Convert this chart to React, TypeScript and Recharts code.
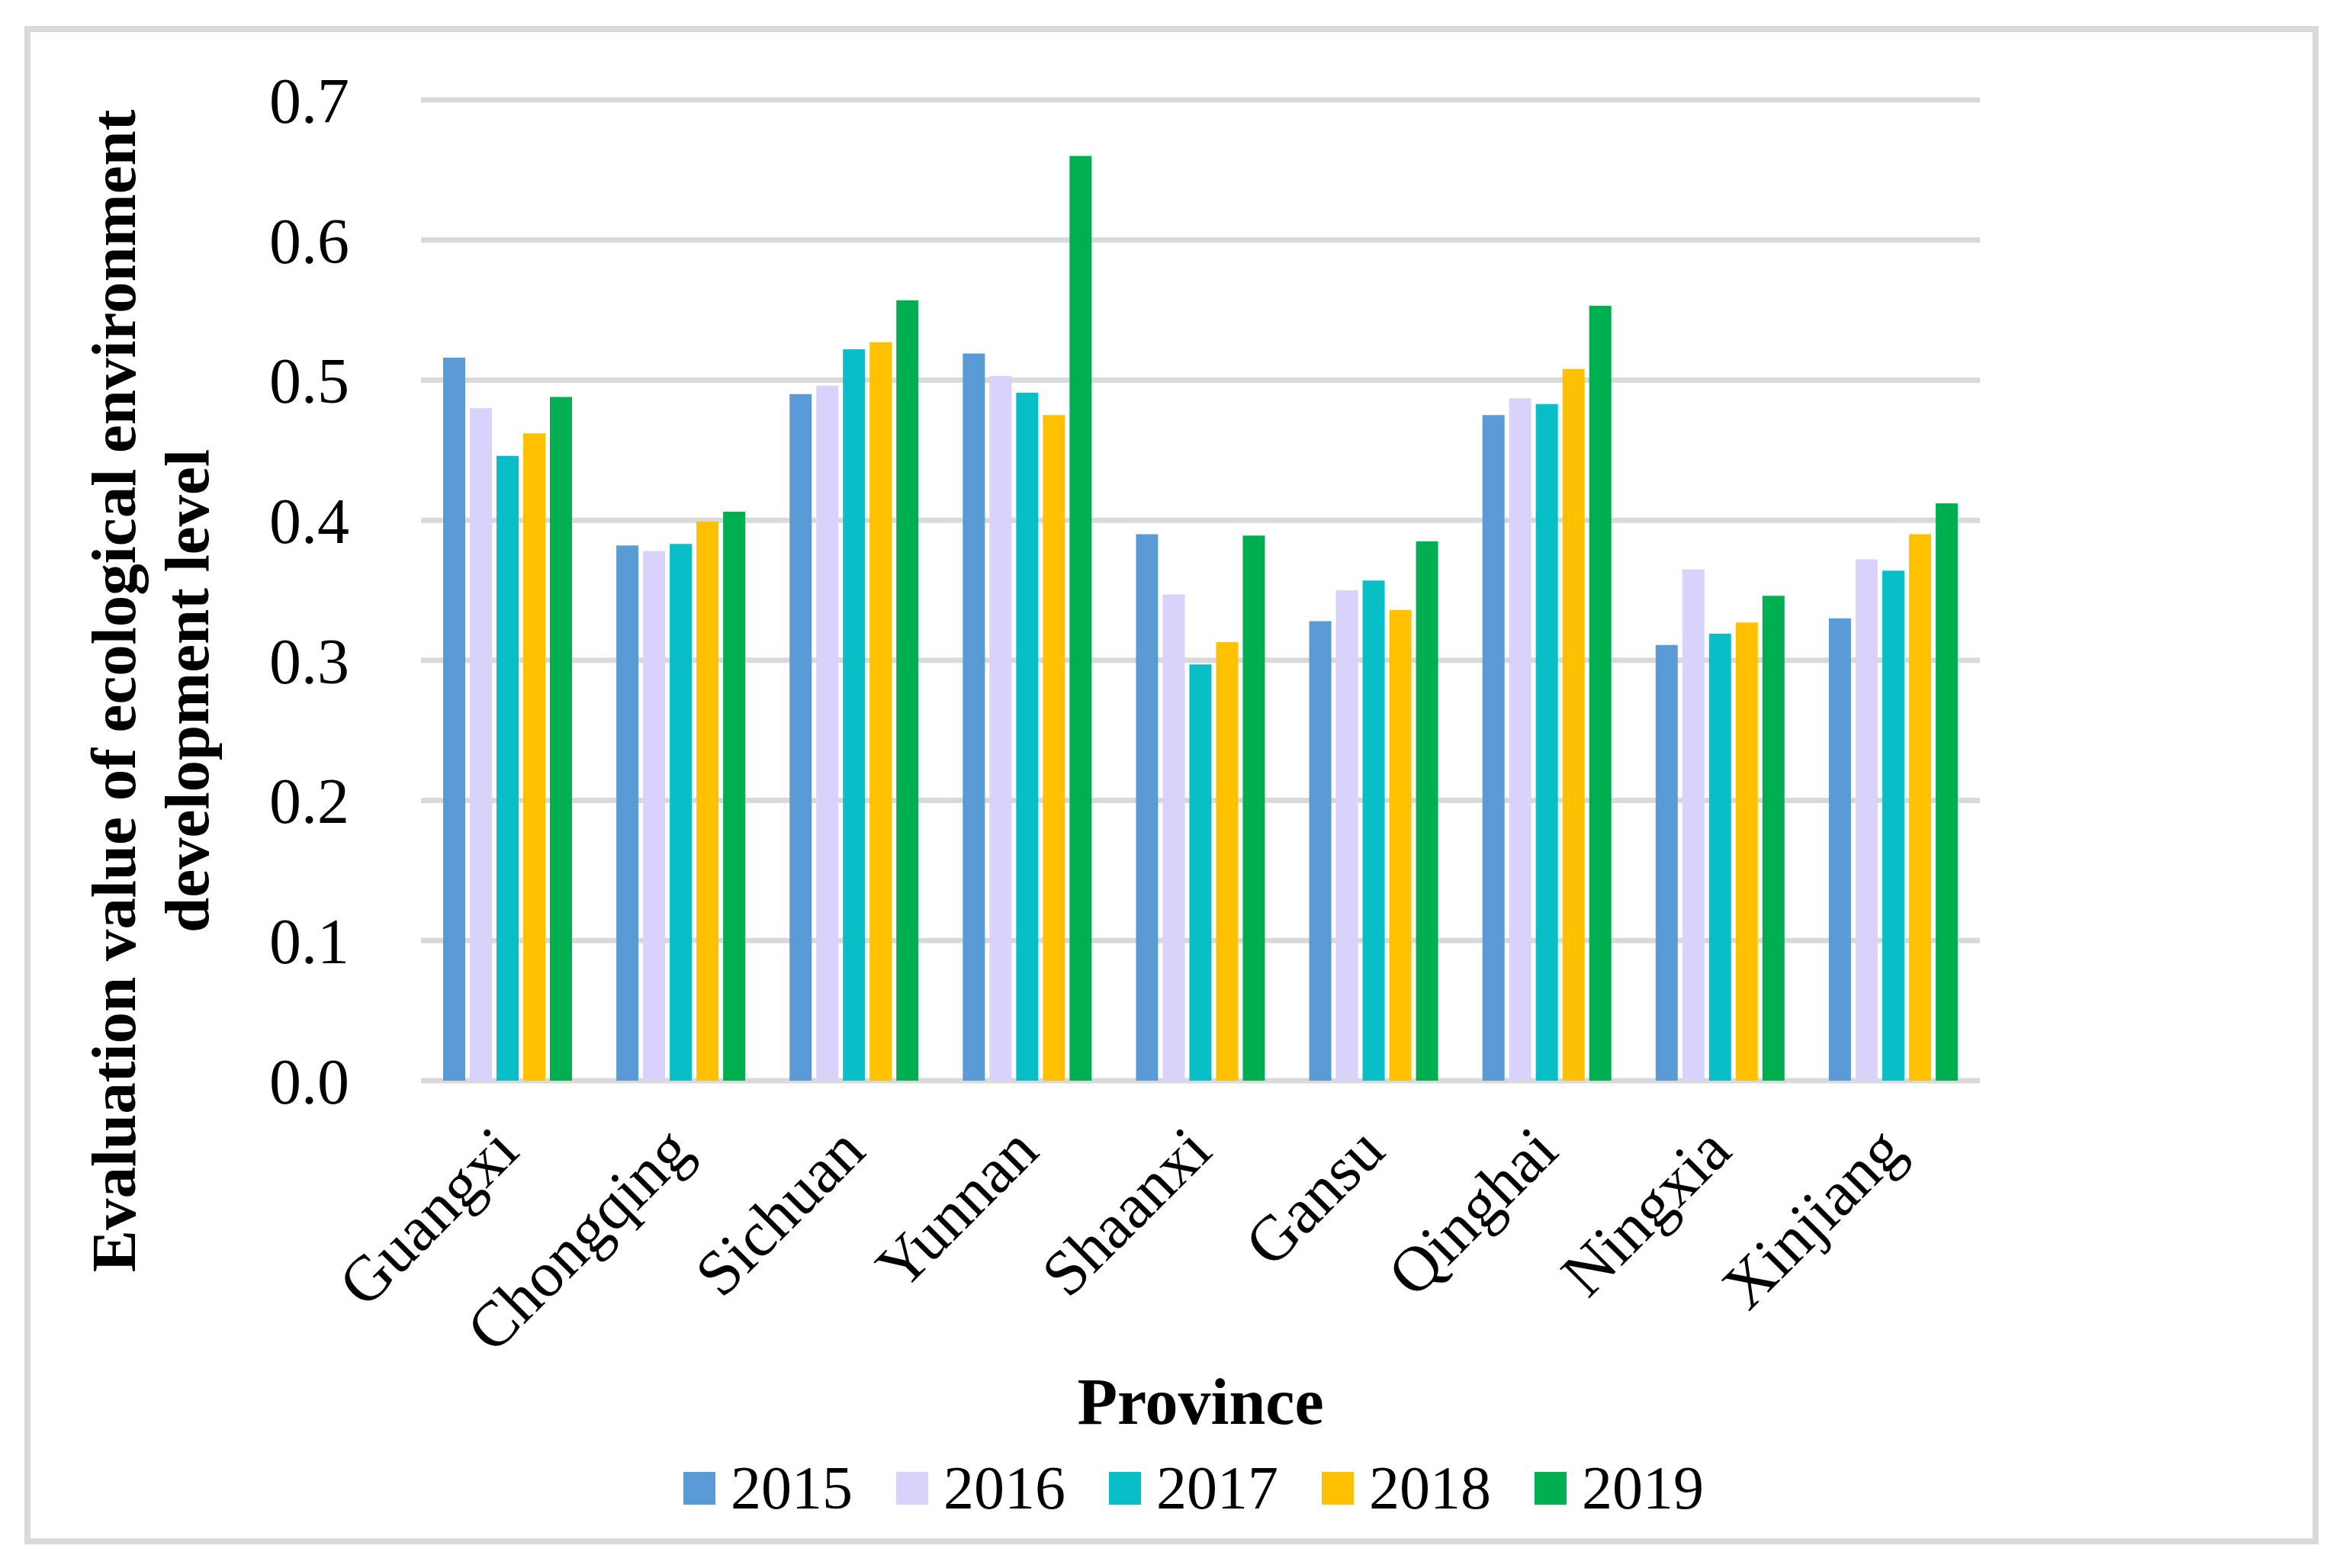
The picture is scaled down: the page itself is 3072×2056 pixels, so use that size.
import React from "react";
import { BarChart, Bar, XAxis, YAxis, CartesianGrid, Legend } from "recharts";

const provinces = ["Guangxi", "Chongqing", "Sichuan", "Yunnan", "Shaanxi", "Gansu", "Qinghai", "Ningxia", "Xinjiang"];
const years = ["2015", "2016", "2017", "2018", "2019"];
const v2015 = [0.516, 0.382, 0.49, 0.519, 0.39, 0.328, 0.475, 0.311, 0.33];
const v2016 = [0.48, 0.378, 0.496, 0.503, 0.347, 0.35, 0.487, 0.365, 0.372];
const v2017 = [0.446, 0.383, 0.522, 0.491, 0.297, 0.357, 0.483, 0.319, 0.364];
const v2018 = [0.462, 0.399, 0.527, 0.475, 0.313, 0.336, 0.508, 0.327, 0.39];
const v2019 = [0.488, 0.406, 0.557, 0.66, 0.389, 0.385, 0.553, 0.346, 0.412];
const yTicks = [0, 0.1, 0.2, 0.3, 0.4, 0.5, 0.6, 0.7];
const colors = ["#5B9BD5", "#D9D2FB", "#08BFC7", "#FFC000", "#00B050"];

const seriesValues = [v2015, v2016, v2017, v2018, v2019];
const data = provinces.map((p, i) => {
  const row: { [key: string]: string | number } = { province: p };
  years.forEach((y, j) => {
    row[y] = seriesValues[j][i];
  });
  return row;
});

const FONT = '"Liberation Serif", "Times New Roman", serif';

const ProvinceTick = (props: any) => {
  const { x, y, payload } = props;
  const ax = x + 18;
  const ay = y + 96;
  return (
    <text
      x={ax}
      y={ay}
      textAnchor="end"
      transform={`rotate(-45, ${ax}, ${ay})`}
      fontFamily={FONT}
      fontSize={84}
      fill="#000"
    >
      {payload.value}
    </text>
  );
};

const YTitle = () => (
  <text transform="rotate(-90)" fontFamily={FONT} fontSize={83} fontWeight="bold" fill="#000" textAnchor="middle">
    <tspan x={-906} y={177}>Evaluation value of ecological environment</tspan>
    <tspan x={-906} y={273}>development level</tspan>
  </text>
);

const XTitle = (props: any) => {
  const { viewBox } = props;
  return (
    <text
      x={viewBox.x + viewBox.width / 2}
      y={viewBox.y + 450}
      textAnchor="middle"
      fontFamily={FONT}
      fontSize={86}
      fontWeight="bold"
      fill="#000"
    >
      Province
    </text>
  );
};

const LegendContent = (props: any) => {
  const { payload } = props;
  return (
    <div
      style={{
        display: "flex",
        justifyContent: "center",
        alignItems: "center",
        height: 60,
        fontFamily: FONT,
        fontSize: 80,
        color: "#000",
      }}
    >
      {payload.map((entry: any, i: number) => (
        <div key={entry.value} style={{ display: "flex", alignItems: "center", marginRight: i < payload.length - 1 ? 57 : 0 }}>
          <span style={{ display: "inline-block", width: 42, height: 43, background: entry.color, marginRight: 20 }} />
          <span style={{ lineHeight: "60px" }}>{entry.value}</span>
        </div>
      ))}
    </div>
  );
};

export default function App() {
  return (
    <div style={{ position: "absolute", left: 0, top: 0, width: 3072, height: 2056, background: "#fff" }}>
      <div
        style={{
          position: "absolute",
          left: 32,
          top: 34,
          width: 3008,
          height: 1991,
          border: "8px solid #D9D9D9",
          boxSizing: "border-box",
        }}
      />
      <div style={{ position: "absolute", left: 0, top: 0 }}>
        <BarChart
          width={3072}
          height={2056}
          data={data}
          margin={{ top: 131, right: 476, bottom: 179, left: 0 }}
          barCategoryGap={29}
          barGap={6}
        >
          <CartesianGrid vertical={false} stroke="#D9D9D9" strokeWidth={7} />
          <XAxis
            dataKey="province"
            interval={0}
            height={400}
            tickLine={false}
            axisLine={false}
            tickSize={0}
            tickMargin={0}
            tick={<ProvinceTick />}
            label={<XTitle />}
          />
          <YAxis
            width={552}
            domain={[0, 0.7]}
            ticks={yTicks}
            tickFormatter={(v: number) => v.toFixed(1)}
            tickLine={false}
            axisLine={false}
            tickSize={0}
            tickMargin={94}
            tick={{ fontFamily: FONT, fontSize: 84, fill: "#000" }}
            label={<YTitle />}
          />
          <Legend
            verticalAlign="bottom"
            content={<LegendContent />}
            wrapperStyle={{ left: 58, width: 3014, bottom: 75 }}
          />
          {years.map((y, j) => (
            <Bar key={y} dataKey={y} name={y} fill={colors[j]} isAnimationActive={false} />
          ))}
        </BarChart>
      </div>
    </div>
  );
}
